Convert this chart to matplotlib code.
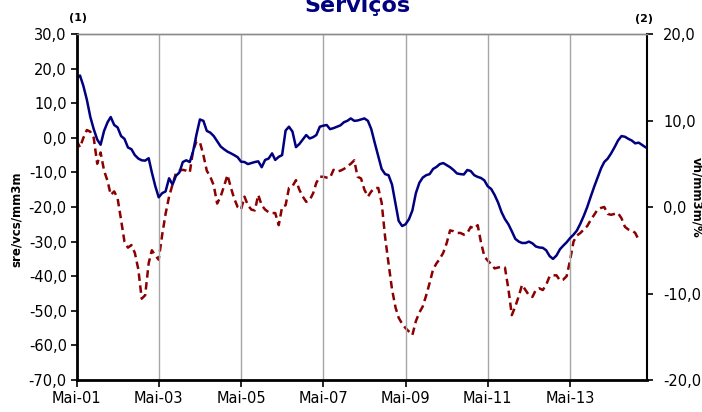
import numpy as np
import pandas as pd
import matplotlib
matplotlib.use("Agg")
import matplotlib.pyplot as plt

# sre/vcs/mm3m (left axis), monthly from May 2001
sre = [17.2, 18, 15, 11, 6, 2.5, -0.5, -2, 2, 4.5,
       6, 3.7, 3, 0.5, -0.3, -2.8, -3.3, -5, -6, -6.5,
       -6.6, -5.9, -10, -14, -17.2, -16, -15.5, -11.7, -13.5, -11,
       -10, -7, -6.5, -7, -4, 1, 5.3, 4.9, 2, 1.5,
       0.5, -1, -2.5, -3.3, -4.0, -4.5, -5.0, -5.6, -6.9, -7.0,
       -7.6, -7.3, -7.0, -6.8, -8.5, -6.4, -6.0, -4.5, -6.4, -5.5,
       -5.0, 2.1, 3.2, 1.8, -2.7, -1.8, -0.5, 0.8, -0.2, 0.2,
       0.8, 3.2, 3.5, 3.7, 2.5, 2.8, 3.2, 3.6, 4.5, 4.9,
       5.6, 4.9, 5.0, 5.3, 5.6, 4.9, 2.5, -1.5, -5.3, -9,
       -10.5, -10.8, -13.5, -19, -24, -25.5, -25, -23.5, -21, -16,
       -13, -11.5, -10.8, -10.5, -9, -8.4, -7.6, -7.3, -7.9, -8.5,
       -9.3, -10.3, -10.5, -10.6, -9.3, -9.6, -10.8, -11.3, -11.6, -12.3,
       -14, -14.8, -16.5, -18.7, -21.5, -23.5, -25, -27, -29.2, -30,
       -30.4, -30.4, -30, -30.5, -31.4, -31.7, -31.8, -32.5, -34.2, -35,
       -34, -32.2, -31.2, -30.2, -29, -28, -26.8, -24.8, -22.5, -20,
       -17, -14.2, -11.5, -8.8, -7, -6, -4.5, -2.7, -0.8, 0.5,
       0.3, -0.3, -0.8, -1.6, -1.4, -2.1, -2.7]

# vh/mm3m/% (right axis), monthly from May 2001
vh = [7.7, 6.9, 8.0, 8.9, 8.7, 8.0, 5.0, 6.3, 4.2, 3.0,
      1.4, 1.8, 1.0, -1.5, -4.0, -4.7, -4.4, -5.3, -7.2, -10.6,
      -10.2, -6.5, -5.0, -5.6, -6.1, -3.2, -0.8, 1.2, 2.6, 3.9,
      4.2, 4.3, 4.2, 4.0, 6.5, 7.6, 7.5, 6.0, 4.2, 3.5,
      2.5, 0.4, 1.2, 2.4, 3.7, 2.2, 1.0, 0.0, -0.3, 1.2,
      0.2, -0.3, -0.4, 1.4, 0.2, -0.3, -0.6, -0.7, -0.7, -2.1,
      0.0, 0.2, 2.2, 2.4, 3.1, 2.0, 1.2, 0.6, 0.8, 1.6,
      2.8, 3.5, 3.5, 3.4, 3.4, 4.3, 4.1, 4.2, 4.4, 4.7,
      5.0, 5.4, 3.5, 3.3, 2.0, 1.2, 1.8, 2.2, 2.2, 0.5,
      -3.5, -6.5, -9.5, -11.6, -12.8, -13.5, -14.0, -14.4, -14.8, -13.2,
      -12.2, -11.5, -10.2, -8.8, -7.2, -6.5, -6.0, -5.3, -4.2, -2.7,
      -2.8, -3.0, -3.0, -3.2, -3.0, -2.3, -2.5, -2.1, -4.0, -5.7,
      -6.2, -6.6, -7.1, -7.0, -6.9, -7.0, -9.5, -12.5, -11.5, -10.3,
      -9.0, -9.6, -10.2, -10.4, -9.6, -9.4, -9.6, -9.0, -8.0, -7.9,
      -7.9, -8.5, -8.4, -8.0, -6.2, -4.0, -3.3, -3.0, -2.6, -2.2,
      -1.5, -0.9, -0.3, -0.1, 0.0, -0.8, -0.9, -0.8, -0.7, -1.3,
      -2.3, -2.6, -2.7, -3.0, -3.8]

xtick_labels = ["Mai-01", "Mai-03", "Mai-05", "Mai-07", "Mai-09", "Mai-11", "Mai-13"]
left_ticks = [30, 20, 10, 0, -10, -20, -30, -40, -50, -60, -70]
right_ticks = [20, 10, 0, -10, -20]

dates = pd.date_range("2001-05-01", periods=len(sre), freq="MS")
xticks = pd.date_range("2001-05-01", periods=len(xtick_labels), freq="24MS")

navy = "#000080"
red = "#8B0000"

fig = plt.figure(figsize=(7.02, 4.12), dpi=100)
ax = fig.add_axes([76.5 / 702, 1 - 380 / 412, (646.7 - 76.5) / 702, (380 - 34) / 412])
ax2 = ax.twinx()

ax2.plot(dates[:len(vh)], vh, color=red, lw=1.8, dashes=(3, 1.8))
ax.plot(dates, sre, color=navy, lw=1.8)
ax.set_zorder(ax2.get_zorder() + 1)
ax.patch.set_visible(False)

ax.set_xlim(dates[0], dates[-1] + pd.Timedelta(days=12))
ax.set_ylim(-70, 30)
ax2.set_ylim(-20, 20)

ax.set_xticks(xticks)
ax.set_xticklabels(xtick_labels, fontsize=10.5)
ax.set_yticks(left_ticks)
ax.set_yticklabels([f"{v:.1f}".replace(".", ",") for v in left_ticks], fontsize=10.5)
ax2.set_yticks(right_ticks)
ax2.set_yticklabels([f"{v:.1f}".replace(".", ",") for v in right_ticks], fontsize=10.5)

ax2.grid(False)
ax.grid(axis="x", color="#A6A6A6", lw=1)
ax.set_axisbelow(True)

for a in (ax, ax2):
    a.spines["top"].set_color("#8C8C8C")
    a.spines["top"].set_linewidth(1)
ax.spines["left"].set_linewidth(2)
ax.spines["bottom"].set_linewidth(2)
ax.spines["right"].set_visible(False)
ax2.spines["left"].set_visible(False)
ax2.spines["bottom"].set_visible(False)
ax2.spines["right"].set_linewidth(1.5)

ax.tick_params(axis="x", length=5, width=1.2, pad=3, colors="black")
ax.tick_params(axis="y", length=4, width=1.2, pad=3)
ax2.tick_params(axis="y", length=4, width=1.2, pad=8)

# axis titles placed where the reference has them
fig.text(16.5 / 702, 1 - 219 / 412, "sre/vcs/mm3m", fontsize=8.5, fontweight="bold",
         rotation=90, ha="center", va="center")
fig.text(697 / 702, 1 - 197 / 412, "vh/mm3m/%", fontsize=8.5, fontweight="bold",
         rotation=-90, ha="center", va="center")

fig.text(78 / 702, 1 - 18 / 412, "(1)", fontsize=8, fontweight="bold", ha="center", va="center")
fig.text(644 / 702, 1 - 19 / 412, "(2)", fontsize=8, fontweight="bold", ha="center", va="center")
fig.text(357 / 702, 1 - 12 / 412, "Serviços", fontsize=16, fontweight="bold",
         color=navy, ha="center", va="baseline")

fig.savefig("out.png", dpi=100)
